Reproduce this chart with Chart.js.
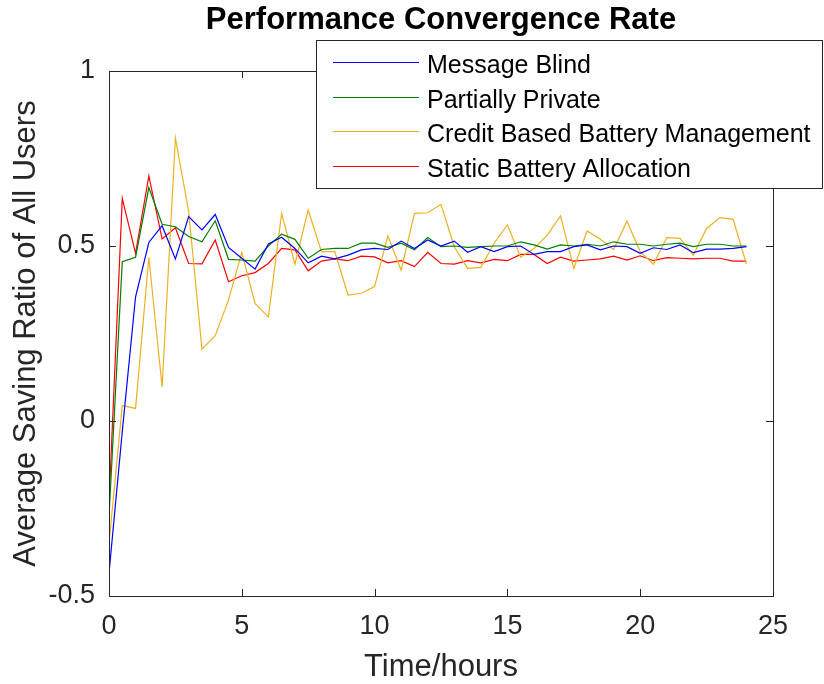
<!DOCTYPE html>
<html lang="en">
<head>
    <meta charset="UTF-8">
    <title>Performance Convergence Rate</title>
    <style>
        html, body {
            margin: 0;
            padding: 0;
            background-color: #ffffff;
        }
        #wrap {
            position: relative;
            width: 824px;
            height: 684px;
        }
    </style>
    <script src="https://cdn.jsdelivr.net/npm/chart.js"></script>
</head>
<body>
    <div id="wrap"><canvas id="convergenceChart" width="824" height="684"></canvas></div>

    <script>
        // time axis, every half hour
        const hours = [0, 0.5, 1, 1.5, 2, 2.5, 3, 3.5, 4, 4.5, 5, 5.5, 6, 6.5, 7, 7.5, 8, 8.5, 9, 9.5,
            10, 10.5, 11, 11.5, 12, 12.5, 13, 13.5, 14, 14.5, 15, 15.5, 16, 16.5, 17, 17.5, 18, 18.5, 19, 19.5,
            20, 20.5, 21, 21.5, 22, 22.5, 23, 23.5, 24];

        const messageBlind = [-0.435, -0.03, 0.355, 0.51, 0.558, 0.463, 0.584, 0.546, 0.59, 0.496,
            0.465, 0.434, 0.506, 0.525, 0.493, 0.452, 0.471, 0.463, 0.474, 0.489,
            0.493, 0.49, 0.514, 0.493, 0.517, 0.5, 0.514, 0.482, 0.498, 0.484,
            0.498, 0.5, 0.476, 0.484, 0.484, 0.498, 0.503, 0.489, 0.5, 0.498,
            0.479, 0.495, 0.49, 0.503, 0.481, 0.491, 0.491, 0.493, 0.498];

        const partiallyPrivate = [-0.273, 0.455, 0.468, 0.667, 0.562, 0.555, 0.527, 0.512, 0.572, 0.462,
            0.46, 0.457, 0.5, 0.534, 0.519, 0.465, 0.49, 0.493, 0.493, 0.508,
            0.508, 0.496, 0.508, 0.489, 0.524, 0.498, 0.5, 0.496, 0.498, 0.5,
            0.5, 0.512, 0.503, 0.491, 0.503, 0.5, 0.505, 0.5, 0.512, 0.505,
            0.505, 0.5, 0.505, 0.508, 0.498, 0.505, 0.505, 0.5, 0.5];

        const creditBased = [-0.35, 0.044, 0.036, 0.468, 0.097, 0.808, 0.598, 0.205, 0.244, 0.346,
            0.481, 0.336, 0.297, 0.593, 0.448, 0.603, 0.484, 0.484, 0.36, 0.365,
            0.384, 0.529, 0.431, 0.593, 0.595, 0.619, 0.498, 0.436, 0.439, 0.508,
            0.56, 0.468, 0.493, 0.531, 0.586, 0.436, 0.543, 0.519, 0.49, 0.571,
            0.484, 0.448, 0.524, 0.522, 0.474, 0.55, 0.581, 0.576, 0.448];

        const staticAllocation = [-0.235, 0.636, 0.479, 0.70, 0.52, 0.552, 0.45, 0.449, 0.517, 0.398,
            0.415, 0.424, 0.45, 0.493, 0.489, 0.429, 0.457, 0.463, 0.458, 0.471,
            0.469, 0.452, 0.458, 0.441, 0.482, 0.45, 0.448, 0.458, 0.452, 0.462,
            0.458, 0.476, 0.476, 0.45, 0.468, 0.457, 0.46, 0.463, 0.471, 0.46,
            0.472, 0.458, 0.467, 0.465, 0.463, 0.465, 0.465, 0.457, 0.457];

        const seriesNames = ['Message Blind', 'Partially Private', 'Credit Based Battery Management', 'Static Battery Allocation'];
        const seriesColors = ['#0000FF', '#008000', '#EDB120', '#FF0000'];
        const seriesValues = [messageBlind, partiallyPrivate, creditBased, staticAllocation];

        const FONT = "'Liberation Sans', Arial, Helvetica, sans-serif";
        const AXIS_COLOR = '#262626';

        // box, inward ticks, titles and legend drawn over the chart
        const decorPlugin = {
            id: 'decor',
            afterDraw(chart) {
                const ctx = chart.ctx;
                const area = chart.chartArea;
                const xs = chart.scales.x;
                const ys = chart.scales.y;
                const tickLen = 7;

                ctx.save();
                ctx.strokeStyle = AXIS_COLOR;
                ctx.lineWidth = 1;
                ctx.strokeRect(Math.round(area.left) + 0.5, Math.round(area.top) + 0.5,
                    Math.round(area.right - area.left), Math.round(area.bottom - area.top));

                ctx.beginPath();
                xs.ticks.forEach(t => {
                    const px = Math.round(xs.getPixelForValue(t.value)) + 0.5;
                    ctx.moveTo(px, area.bottom);
                    ctx.lineTo(px, area.bottom - tickLen);
                    ctx.moveTo(px, area.top);
                    ctx.lineTo(px, area.top + tickLen);
                });
                ys.ticks.forEach(t => {
                    const py = Math.round(ys.getPixelForValue(t.value)) + 0.5;
                    ctx.moveTo(area.left, py);
                    ctx.lineTo(area.left + tickLen, py);
                    ctx.moveTo(area.right, py);
                    ctx.lineTo(area.right - tickLen, py);
                });
                ctx.stroke();

                const midX = (area.left + area.right) / 2;
                const midY = (area.top + area.bottom) / 2;

                // title
                ctx.fillStyle = '#000000';
                ctx.textAlign = 'center';
                ctx.textBaseline = 'alphabetic';
                ctx.font = 'bold 31px ' + FONT;
                ctx.fillText('Performance Convergence Rate', midX, 29);

                // axis titles
                ctx.fillStyle = AXIS_COLOR;
                ctx.font = '31px ' + FONT;
                ctx.fillText('Time/hours', midX, 676);

                ctx.save();
                ctx.translate(35, midY);
                ctx.rotate(-Math.PI / 2);
                ctx.fillText('Average Saving Ratio of All Users', 0, 0);
                ctx.restore();

                // legend box
                const lx = 316, ly = 40, lw = 506, lh = 148;
                ctx.fillStyle = '#ffffff';
                ctx.fillRect(lx, ly, lw, lh);
                ctx.strokeStyle = AXIS_COLOR;
                ctx.strokeRect(lx + 0.5, ly + 0.5, lw, lh);

                ctx.font = '25px ' + FONT;
                ctx.textAlign = 'left';
                const rowY = [62, 97, 131, 166];
                seriesNames.forEach((name, i) => {
                    ctx.strokeStyle = seriesColors[i];
                    ctx.beginPath();
                    ctx.moveTo(333, rowY[i] + 0.5);
                    ctx.lineTo(419, rowY[i] + 0.5);
                    ctx.stroke();
                    ctx.fillStyle = '#000000';
                    ctx.fillText(name, 427, rowY[i] + 10.5);
                });
                ctx.restore();
            }
        };

        const chart = new Chart(document.getElementById('convergenceChart').getContext('2d'), {
            type: 'line',
            data: {
                datasets: seriesNames.map((name, i) => ({
                    label: name,
                    data: hours.map((h, k) => ({ x: h, y: seriesValues[i][k] })),
                    borderColor: seriesColors[i],
                    borderWidth: 1.2,
                    pointRadius: 0,
                    fill: false,
                    tension: 0
                }))
            },
            options: {
                responsive: false,
                animation: false,
                devicePixelRatio: 1,
                layout: { padding: { top: 71, right: 51, left: 0, bottom: 0 } },
                plugins: {
                    legend: { display: false },
                    title: { display: false },
                    tooltip: { enabled: false }
                },
                scales: {
                    x: {
                        type: 'linear',
                        min: 0,
                        max: 25,
                        grid: { display: false, drawTicks: false },
                        border: { display: false },
                        ticks: {
                            stepSize: 5,
                            padding: 14,
                            color: AXIS_COLOR,
                            font: { family: FONT, size: 27 },
                            maxRotation: 0
                        },
                        afterFit(scale) { scale.height = 88; }
                    },
                    y: {
                        min: -0.5,
                        max: 1,
                        grid: { display: false, drawTicks: false },
                        border: { display: false },
                        ticks: {
                            stepSize: 0.5,
                            padding: 14,
                            color: AXIS_COLOR,
                            font: { family: FONT, size: 27 },
                            callback: v => String(v)
                        },
                        afterFit(scale) { scale.width = 109; }
                    }
                }
            },
            plugins: [decorPlugin]
        });
    </script>
</body>
</html>
